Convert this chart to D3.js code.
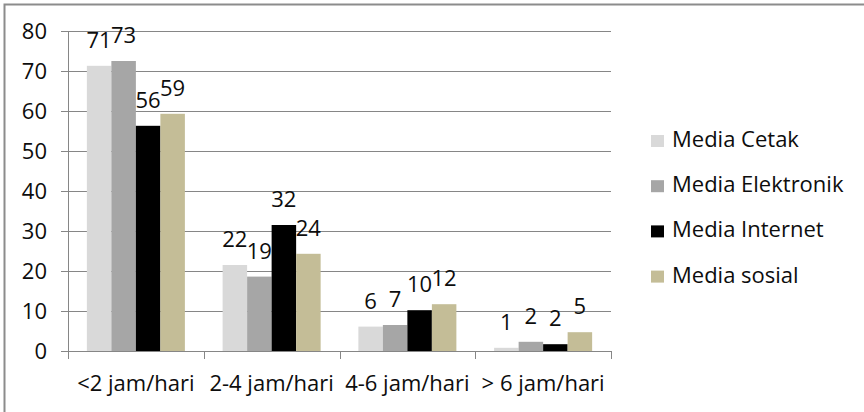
<!DOCTYPE html>
<html>
<head>
<meta charset="utf-8">
<script src="https://cdn.jsdelivr.net/npm/d3@7"></script>
<style>
  body { margin: 0; background: #fff; }
  text { font-family: "Open Sans", "Noto Sans", sans-serif; fill: #0d0d0d; }
</style>
</head>
<body>
<div class="chart"></div>
<script>
// Data
const categories = ['<2 jam/hari', '2-4 jam/hari', '4-6 jam/hari', '> 6 jam/hari'];
const seriesNames = ['Media Cetak', 'Media Elektronik', 'Media Internet', 'Media sosial'];
const mediaCetak = [71.3, 21.5, 6.1, 0.8];
const mediaElektronik = [72.5, 18.6, 6.5, 2.3];
const mediaInternet = [56.3, 31.5, 10.2, 1.7];
const mediaSosial = [59.3, 24.3, 11.7, 4.7];
const yTicks = [0, 10, 20, 30, 40, 50, 60, 70, 80];

const seriesValues = [mediaCetak, mediaElektronik, mediaInternet, mediaSosial];
const colors = ['#d9d9d9', '#a6a6a6', '#000000', '#c4bd97'];

const svg_width = 864;
const svg_height = 412;
const margin = { top: 31, right: 253, bottom: 61, left: 68 };
const chart_width = svg_width - margin.left - margin.right;
const chart_height = svg_height - margin.top - margin.bottom;
const fontSize = '22px';

const svg = d3.select('.chart').append('svg')
    .attr('width', svg_width).attr('height', svg_height);

// outer frame
svg.append('rect')
    .attr('x', 4.5).attr('y', 4.5)
    .attr('width', 880).attr('height', 430)
    .attr('fill', 'none').attr('stroke', '#8c8c8c').attr('stroke-width', 2);

const g = svg.append('g').attr('transform', `translate(${margin.left},${margin.top})`);

const x = d3.scaleBand().domain(categories).range([0, chart_width]).paddingInner(0);
const xs = d3.scaleBand().domain(seriesNames).range([0, x.bandwidth()]).paddingInner(0).paddingOuter(0.77);
const y = d3.scaleLinear().domain([0, 80]).range([chart_height, 0]);

// gridlines
g.append('g').selectAll('line').data(yTicks.filter(d => d > 0)).join('line')
    .attr('x1', 0).attr('x2', chart_width)
    .attr('y1', d => Math.round(y(d)) + 0.5).attr('y2', d => Math.round(y(d)) + 0.5)
    .attr('stroke', '#868686').attr('stroke-width', 1);

// y axis
const yAxis = d3.axisLeft(y).tickValues(yTicks).tickSize(7).tickPadding(14);
const yAxisDraw = g.append('g').call(yAxis);
yAxisDraw.select('.domain').attr('stroke', '#868686');
yAxisDraw.selectAll('line').attr('stroke', '#868686');
yAxisDraw.selectAll('text').style('font-size', fontSize).attr('fill', '#0d0d0d')
    .style('font-family', '"Open Sans", sans-serif');

// bars
const groups = g.append('g').selectAll('g').data(categories).join('g')
    .attr('transform', d => `translate(${x(d)},0)`);

groups.selectAll('rect')
    .data((c, i) => seriesNames.map((s, j) => ({ s, j, v: seriesValues[j][i] })))
    .join('rect')
    .attr('x', d => xs(d.s)).attr('width', xs.bandwidth())
    .attr('y', d => y(d.v)).attr('height', d => y(0) - y(d.v))
    .attr('fill', d => colors[d.j]);

groups.selectAll('text.lbl')
    .data((c, i) => seriesNames.map((s, j) => ({ s, j, v: seriesValues[j][i] })))
    .join('text').attr('class', 'lbl')
    .attr('x', d => xs(d.s) + xs.bandwidth() / 2)
    .attr('y', d => y(d.v) - 18)
    .attr('text-anchor', 'middle')
    .style('font-size', fontSize)
    .text(d => Math.round(d.v));

// x axis
const xAxisDraw = g.append('g').attr('transform', `translate(0,${chart_height})`);
xAxisDraw.append('line')
    .attr('x1', 0).attr('x2', chart_width).attr('y1', 0.5).attr('y2', 0.5)
    .attr('stroke', '#868686');
const bounds = categories.map(c => x(c)).concat([chart_width]);
xAxisDraw.selectAll('line.tick').data(bounds).join('line').attr('class', 'tick')
    .attr('x1', d => Math.round(d) + 0.5).attr('x2', d => Math.round(d) + 0.5)
    .attr('y1', 0).attr('y2', 8)
    .attr('stroke', '#868686');
xAxisDraw.selectAll('text').data(categories).join('text')
    .attr('x', d => x(d) + x.bandwidth() / 2)
    .attr('y', 40)
    .attr('text-anchor', 'middle')
    .style('font-size', fontSize)
    .text(d => d);

// legend
const legend = svg.append('g').attr('transform', 'translate(651,135)');
const items = legend.selectAll('g').data(seriesNames).join('g')
    .attr('transform', (d, i) => `translate(0,${i * 45.2})`);
items.append('rect').attr('width', 13).attr('height', 12)
    .attr('fill', (d, i) => colors[i]);
items.append('text').attr('x', 21).attr('y', 12)
    .style('font-size', fontSize)
    .text(d => d);
</script>
</body>
</html>
